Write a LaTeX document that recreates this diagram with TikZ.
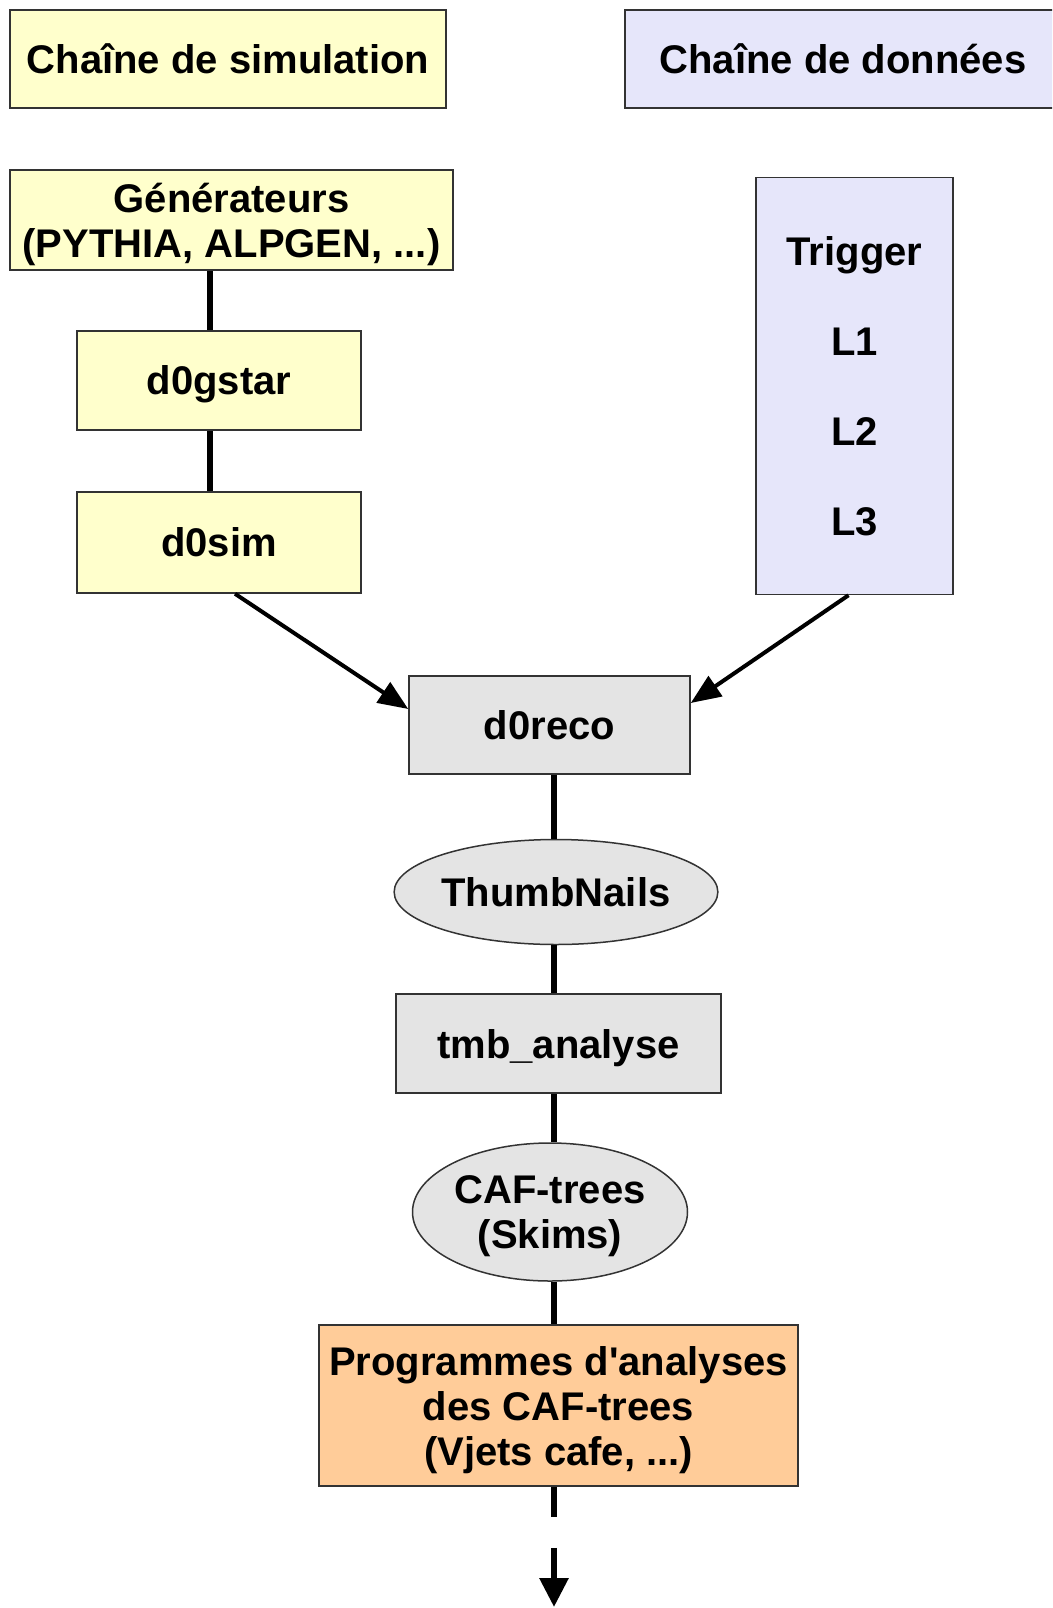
\documentclass[tikz,border=0pt]{standalone}
\usepackage{fontspec}
\setmainfont{Liberation Sans}
\usetikzlibrary{shapes.geometric,arrows.meta}
\definecolor{simyel}{HTML}{FFFFCC}
\definecolor{datlav}{HTML}{E6E6FA}
\definecolor{recgray}{HTML}{E4E4E4}
\definecolor{progor}{HTML}{FFCC99}
\definecolor{bord}{HTML}{333333}
\begin{document}
\begin{tikzpicture}[x=1pt,y=-1pt,
  txt/.style={font=\fontsize{40}{45}\selectfont\bfseries, text=black, text depth=0pt},
  box/.style={txt, draw=bord, line width=1.5pt, rectangle, inner sep=0pt, align=center},
  ell/.style={txt, draw=bord, line width=1.5pt, ellipse, inner sep=0pt, align=center},
  conn/.style={line width=6pt, draw=black},
  arr/.style={line width=4pt, draw=black, -{Triangle[length=30pt,width=24pt]}}]
\useasboundingbox (0,0) rectangle (1052,1608);
\clip (0,0) rectangle (1052,1608);

\coordinate (lspine) at (210,0);
\coordinate (spine) at (554,0);

\node[box, fill=simyel, minimum width=436pt, minimum height=98pt] (simhead) at (228,59) {Chaîne de simulation};
\node[box, fill=datlav, minimum width=436pt, minimum height=98pt] (datahead) at (843,59) {Chaîne de données};

\node[box, fill=simyel, minimum width=443pt, minimum height=100pt] (gen) at (231.5,220) {Générateurs\\(PYTHIA, ALPGEN, ...)};
\node[box, fill=simyel, minimum width=284pt, minimum height=99pt] (d0gstar) at (219,380.5) {d0gstar};
\node[box, fill=simyel, minimum width=284pt, minimum height=101pt] (d0sim) at (219,542.5) {d0sim};

\node[box, fill=datlav, minimum width=197pt, minimum height=417pt, font=\fontsize{40}{90}\selectfont\bfseries] (trigger) at (854.5,386) {Trigger\\L1\\L2\\L3};

\node[box, fill=recgray, minimum width=281pt, minimum height=98pt] (d0reco) at (549.5,725) {d0reco};
\node[ell, fill=recgray, minimum width=318pt, minimum height=105pt] (thumb) at (556,892) {ThumbNails};
\node[box, fill=recgray, minimum width=325pt, minimum height=99pt] (tmb) at (558.5,1043.5) {tmb\_analyse};
\node[ell, fill=recgray, minimum width=275pt, minimum height=138pt] (caf) at (550,1212) {CAF-trees\\(Skims)};
\node[box, fill=progor, minimum width=479pt, minimum height=161pt] (prog) at (558.5,1405.5) {Programmes d\textquotesingle analyses\\des CAF-trees\\(Vjets cafe, ...)};

\coordinate (bottomend) at (554,1607);

\draw[conn] (gen.south -| lspine) -- (d0gstar.north -| lspine);
\draw[conn] (d0gstar.south -| lspine) -- (d0sim.north -| lspine);

\draw[arr] ([xshift=16pt]d0sim.south) -- ([yshift=16pt]d0reco.west);
\draw[arr] ([xshift=-6pt]trigger.south) -- ([yshift=22pt]d0reco.east);

\draw[conn] (d0reco.south -| spine) -- (thumb.north -| spine);
\draw[conn] (thumb.south -| spine) -- (tmb.north -| spine);
\draw[conn] (tmb.south -| spine) -- (caf.north -| spine);
\draw[conn] (caf.south -| spine) -- (prog.north -| spine);
\draw[line width=6pt, dash pattern=on 30pt off 31pt on 300pt, -{Triangle[length=29pt,width=28pt]}] (prog.south -| spine) -- (bottomend);
\end{tikzpicture}
\end{document}
